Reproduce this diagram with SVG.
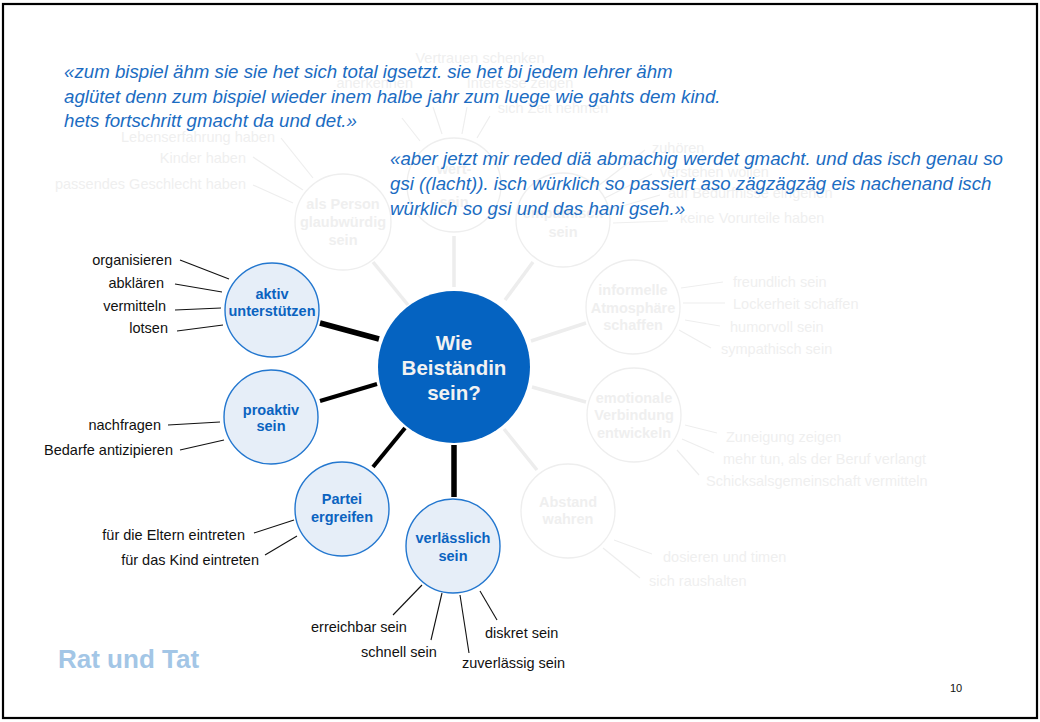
<svg xmlns="http://www.w3.org/2000/svg" width="1040" height="722" viewBox="0 0 1040 722">
<style>
text{font-family:"Liberation Sans",Arial,sans-serif}
.gc{fill:none;stroke:#eeeeee;stroke-width:1.3}
.gt{fill:#efefef;font-size:14.5px;font-weight:bold;text-anchor:middle}
.gl{fill:#efefef;font-size:14.5px}
.gln{stroke:#eeeeee;stroke-width:1.2}
.gsp{stroke:#ededed;stroke-width:3.5}
.bc{fill:#e6eef8;stroke:#2377cf;stroke-width:1.4}
.bt{fill:#0b63c0;font-size:14.5px;font-weight:bold;text-anchor:middle}
.lf{fill:#111;font-size:14.5px}
.ln{stroke:#111;stroke-width:1.1}
.q{fill:#1b6cc2;font-size:18.7px;font-style:italic}
</style>
<rect x="3" y="4" width="1034" height="714" fill="#fff" stroke="#000" stroke-width="2.2"/>

<g id="connectors">
  <g id="ghost-connectors">
    <line class="gsp" x1="408" y1="305" x2="373" y2="262"/>
    <line class="gsp" x1="454" y1="287" x2="454" y2="236"/>
    <line class="gsp" x1="505" y1="300" x2="533" y2="262"/>
    <line class="gsp" x1="531" y1="341" x2="586" y2="323"/>
    <line class="gsp" x1="532" y1="387" x2="586" y2="402"/>
    <line class="gsp" x1="504" y1="429" x2="537" y2="470"/>
    <line class="gln" x1="281" y1="138" x2="313" y2="178"/>
    <line class="gln" x1="253" y1="157" x2="303" y2="190"/>
    <line class="gln" x1="253" y1="185" x2="293" y2="203"/>
    <line class="gln" x1="402" y1="118" x2="420" y2="141"/>
    <line class="gln" x1="433" y1="107" x2="442" y2="134"/>
    <line class="gln" x1="467" y1="107" x2="462" y2="134"/>
    <line class="gln" x1="490" y1="116" x2="477" y2="138"/>
    <line class="gln" x1="598" y1="186" x2="645" y2="150"/>
    <line class="gln" x1="605" y1="198" x2="652" y2="174"/>
    <line class="gln" x1="609" y1="210" x2="660" y2="195"/>
    <line class="gln" x1="613" y1="223" x2="668" y2="221"/>
    <line class="gln" x1="681" y1="288" x2="723" y2="282"/>
    <line class="gln" x1="683" y1="303" x2="725" y2="303"/>
    <line class="gln" x1="685" y1="320" x2="720" y2="326"/>
    <line class="gln" x1="679" y1="330" x2="711" y2="348"/>
    <line class="gln" x1="685" y1="425" x2="717" y2="433"/>
    <line class="gln" x1="682" y1="439" x2="714" y2="453"/>
    <line class="gln" x1="677" y1="450" x2="699" y2="475"/>
    <line class="gln" x1="614" y1="540" x2="652" y2="554"/>
    <line class="gln" x1="603" y1="548" x2="640" y2="578"/>
  </g>
  <g id="main-connectors">
    <line stroke="#000" stroke-width="5.5" x1="320" y1="323" x2="379" y2="339"/>
    <line stroke="#000" stroke-width="4" x1="320" y1="401" x2="377" y2="384"/>
    <line stroke="#000" stroke-width="4" x1="373" y1="467" x2="405" y2="428"/>
    <line stroke="#000" stroke-width="5.5" x1="454" y1="445" x2="454" y2="497"/>
    <line class="ln" x1="180" y1="260" x2="229" y2="279"/>
    <line class="ln" x1="175" y1="284" x2="222" y2="292"/>
    <line class="ln" x1="175" y1="310" x2="221" y2="308"/>
    <line class="ln" x1="177" y1="331" x2="223" y2="325"/>
    <line class="ln" x1="168" y1="425" x2="220" y2="422"/>
    <line class="ln" x1="180" y1="450" x2="224" y2="440"/>
    <line class="ln" x1="254" y1="533" x2="294" y2="520"/>
    <line class="ln" x1="265" y1="555" x2="297" y2="536"/>
    <line class="ln" x1="393" y1="615" x2="422" y2="585"/>
    <line class="ln" x1="431" y1="640" x2="442" y2="593"/>
    <line class="ln" x1="460" y1="595" x2="469" y2="653"/>
    <line class="ln" x1="480" y1="591" x2="497" y2="620"/>
  </g>
</g>

<g id="node-person">
  <circle class="gc" cx="343" cy="222" r="48"/>
  <text class="gt" x="343" y="209">als Person</text>
  <text class="gt" x="343" y="227">glaubwürdig</text>
  <text class="gt" x="343" y="245">sein</text>
  <text class="gl" x="275" y="142" text-anchor="end">Lebenserfahrung haben</text>
  <text class="gl" x="246" y="163" text-anchor="end">Kinder haben</text>
  <text class="gl" x="246" y="189" text-anchor="end">passendes Geschlecht haben</text>
</g>
<g id="node-wert">
  <circle class="gc" cx="454" cy="185" r="47"/>
  <text class="gt" x="454" y="174">wert-</text>
  <text class="gt" x="454" y="207">sein</text>
  <text class="gl" x="480" y="63" text-anchor="middle">Vertrauen schenken</text>
  <text class="gl" x="413" y="88" text-anchor="end">anerkennen</text>
  <text class="gl" x="520" y="88" text-anchor="middle">Interesse zeigen</text>
  <text class="gl" x="553" y="113" text-anchor="middle">sich Zeit nehmen</text>
</g>
<g id="node-empathisch">
  <circle class="gc" cx="563" cy="220" r="47"/>
  <text class="gt" x="563" y="218">empathisch</text>
  <text class="gt" x="563" y="237">sein</text>
  <text class="gl" x="652" y="153">zuhören</text>
  <text class="gl" x="660" y="177">verstehen wollen</text>
  <text class="gl" x="668" y="198">auf Bedürfnisse eingehen</text>
  <text class="gl" x="680" y="223">keine Vorurteile haben</text>
</g>
<g id="node-informell">
  <circle class="gc" cx="633" cy="307" r="47"/>
  <text class="gt" x="633" y="295">informelle</text>
  <text class="gt" x="633" y="313">Atmosphäre</text>
  <text class="gt" x="633" y="330">schaffen</text>
  <text class="gl" x="733" y="287">freundlich sein</text>
  <text class="gl" x="733" y="309">Lockerheit schaffen</text>
  <text class="gl" x="730" y="332">humorvoll sein</text>
  <text class="gl" x="721" y="354">sympathisch sein</text>
</g>
<g id="node-emotional">
  <circle class="gc" cx="634" cy="415" r="47"/>
  <text class="gt" x="634" y="403">emotionale</text>
  <text class="gt" x="634" y="420">Verbindung</text>
  <text class="gt" x="634" y="438">entwickeln</text>
  <text class="gl" x="726" y="442">Zuneigung zeigen</text>
  <text class="gl" x="723" y="464">mehr tun, als der Beruf verlangt</text>
  <text class="gl" x="706" y="486">Schicksalsgemeinschaft vermitteln</text>
</g>
<g id="node-abstand">
  <circle class="gc" cx="568" cy="511" r="47"/>
  <text class="gt" x="568" y="507">Abstand</text>
  <text class="gt" x="568" y="524">wahren</text>
  <text class="gl" x="663" y="562">dosieren und timen</text>
  <text class="gl" x="649" y="586">sich raushalten</text>
</g>

<g id="node-center">
  <circle cx="454" cy="367" r="76" fill="#0563c1"/>
  <text x="454" y="350" fill="#f2f2f2" font-size="20.5" font-weight="bold" text-anchor="middle">Wie</text>
  <text x="454" y="375" fill="#f2f2f2" font-size="20.5" font-weight="bold" text-anchor="middle">Beiständin</text>
  <text x="454" y="400" fill="#f2f2f2" font-size="20.5" font-weight="bold" text-anchor="middle">sein?</text>
</g>

<g id="node-aktiv">
  <circle class="bc" cx="272" cy="310" r="47"/>
  <text class="bt" x="272" y="299">aktiv</text>
  <text class="bt" x="272" y="316">unterstützen</text>
  <text class="lf" x="172" y="265" text-anchor="end">organisieren</text>
  <text class="lf" x="164" y="288" text-anchor="end">abklären</text>
  <text class="lf" x="166" y="311" text-anchor="end">vermitteln</text>
  <text class="lf" x="168" y="333" text-anchor="end">lotsen</text>
</g>
<g id="node-proaktiv">
  <circle class="bc" cx="271" cy="417" r="47"/>
  <text class="bt" x="271" y="415">proaktiv</text>
  <text class="bt" x="271" y="431">sein</text>
  <text class="lf" x="161" y="430" text-anchor="end">nachfragen</text>
  <text class="lf" x="173" y="455" text-anchor="end">Bedarfe antizipieren</text>
</g>
<g id="node-partei">
  <circle class="bc" cx="342" cy="509" r="47"/>
  <text class="bt" x="342" y="504">Partei</text>
  <text class="bt" x="342" y="522">ergreifen</text>
  <text class="lf" x="245" y="540" text-anchor="end">für die Eltern eintreten</text>
  <text class="lf" x="259" y="565" text-anchor="end">für das Kind eintreten</text>
</g>
<g id="node-verlaesslich">
  <circle class="bc" cx="453" cy="546" r="47"/>
  <text class="bt" x="453" y="543">verlässlich</text>
  <text class="bt" x="453" y="561">sein</text>
  <text class="lf" x="311" y="632">erreichbar sein</text>
  <text class="lf" x="361" y="657">schnell sein</text>
  <text class="lf" x="462" y="668">zuverlässig sein</text>
  <text class="lf" x="485" y="638">diskret sein</text>
</g>

<g id="quote-1">
  <text class="q" x="64" y="78">«zum bispiel ähm sie sie het sich total igsetzt. sie het bi jedem lehrer ähm</text>
  <text class="q" x="64" y="103">aglütet denn zum bispiel wieder inem halbe jahr zum luege wie gahts dem kind.</text>
  <text class="q" x="64" y="127">hets fortschritt gmacht da und det.»</text>
</g>
<g id="quote-2">
  <text class="q" x="390" y="165">«aber jetzt mir reded diä abmachig werdet gmacht. und das isch genau so</text>
  <text class="q" x="390" y="190">gsi ((lacht)). isch würklich so passiert aso zägzägzäg eis nachenand isch</text>
  <text class="q" x="390" y="215">würklich so gsi und das hani gseh.»</text>
</g>

<text x="58" y="668" fill="#a3c6e6" font-size="26" font-weight="bold">Rat und Tat</text>
<text x="950" y="692" fill="#111" font-size="11">10</text>
</svg>
